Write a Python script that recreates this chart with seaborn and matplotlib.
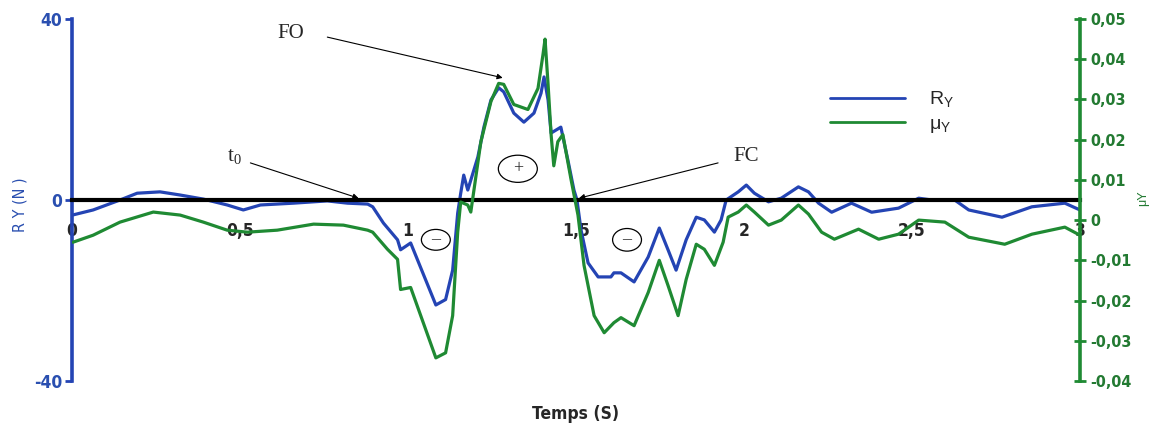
import matplotlib
matplotlib.use("Agg")
import matplotlib.pyplot as plt
from matplotlib.patches import Ellipse
from matplotlib.lines import Line2D
from matplotlib import font_manager
import seaborn as sns
import pandas as pd

# ---------------- data ----------------
t_R = [0.003, 0.063, 0.143, 0.194, 0.262, 0.322, 0.391, 0.462, 0.510, 0.561,
       0.659, 0.760, 0.820, 0.880, 0.895, 0.927, 0.969, 0.978, 1.008, 1.083,
       1.112, 1.133, 1.148, 1.157, 1.166, 1.178, 1.208, 1.226, 1.247, 1.270,
       1.285, 1.315, 1.345, 1.375, 1.396, 1.405, 1.417, 1.426, 1.455, 1.476,
       1.494, 1.503, 1.515, 1.536, 1.566, 1.604, 1.613, 1.634, 1.673, 1.715,
       1.748, 1.774, 1.798, 1.828, 1.858, 1.882, 1.912, 1.932, 1.947, 1.983,
       2.007, 2.031, 2.073, 2.111, 2.162, 2.192, 2.222, 2.261, 2.320, 2.380,
       2.460, 2.520, 2.559, 2.627, 2.669, 2.768, 2.857, 2.955, 3.000]
R_Y = [-3.3, -2.2, 0.0, 1.5, 1.8, 1.1, 0.2, -1.1, -2.2, -1.1,
       -0.7, -0.2, -0.7, -0.9, -1.5, -5.1, -8.8, -11.0, -9.5, -23.2,
       -22.0, -15.5, -2.9, 1.5, 5.5, 2.2, 9.5, 16.1, 22.1, 24.8,
       23.9, 19.2, 17.2, 19.2, 23.6, 27.2, 22.1, 14.8, 16.1, 8.8,
       2.2, 0.0, -6.6, -13.9, -17.0, -17.0, -16.1, -16.1, -18.1, -12.6,
       -6.2, -11.0, -15.5, -8.8, -3.8, -4.4, -7.1, -4.4, 0.0, 1.8,
       3.3, 1.5, -0.4, 0.4, 2.9, 1.8, -0.7, -2.7, -0.7, -2.7,
       -1.8, 0.4, 0.0, 0.0, -2.2, -3.8, -1.5, -0.7, -2.2]

t_mu = [0.003, 0.063, 0.143, 0.242, 0.322, 0.391, 0.462, 0.522, 0.611, 0.719,
        0.808, 0.880, 0.895, 0.939, 0.969, 0.978, 1.008, 1.083, 1.112, 1.133,
        1.148, 1.157, 1.178, 1.187, 1.217, 1.247, 1.270, 1.285, 1.315, 1.357,
        1.387, 1.402, 1.408, 1.417, 1.426, 1.434, 1.446, 1.461, 1.485, 1.506,
        1.524, 1.554, 1.584, 1.613, 1.634, 1.673, 1.715, 1.748, 1.774, 1.804,
        1.828, 1.858, 1.882, 1.912, 1.938, 1.953, 1.983, 2.007, 2.031, 2.073,
        2.111, 2.162, 2.192, 2.231, 2.269, 2.341, 2.401, 2.460, 2.520, 2.598,
        2.669, 2.776, 2.857, 2.955, 3.000]
mu_Y = [-0.0055, -0.00375, -0.0005, 0.002, 0.00125, -0.0005, -0.0025, -0.003, -0.0025, -0.001,
        -0.00125, -0.0025, -0.003, -0.00725, -0.00975, -0.01725, -0.01675, -0.03425, -0.033, -0.02375,
        -0.003, 0.0045, 0.00375, 0.002, 0.0195, 0.0295, 0.034, 0.03375, 0.02875, 0.0275,
        0.03275, 0.04125, 0.045, 0.03375, 0.02125, 0.0135, 0.0195, 0.02125, 0.01025, 0.00125,
        -0.01125, -0.02375, -0.028, -0.0255, -0.02425, -0.02625, -0.018, -0.01, -0.01625, -0.02375,
        -0.01475, -0.006, -0.00725, -0.01125, -0.0055, 0.00075, 0.002, 0.00375, 0.002, -0.00125,
        0.0, 0.00375, 0.0015, -0.003, -0.00475, -0.00225, -0.00475, -0.0035, 0.0, -0.0005,
        -0.00425, -0.006, -0.0035, -0.00175, -0.00375]

x_ticks = [0, 0.5, 1, 1.5, 2, 2.5, 3]
x_tick_labels = ["0", "0,5", "1", "1,5", "2", "2,5", "3"]
left_ticks = [40, 0, -40]
left_tick_labels = ["40", "0", "-40"]
right_ticks = [0.05, 0.04, 0.03, 0.02, 0.01, 0.0, -0.01, -0.02, -0.03, -0.04]
right_tick_labels = ["0,05", "0,04", "0,03", "0,02", "0,01", "0",
                     "-0,01", "-0,02", "-0,03", "-0,04"]

# ---------------- style ----------------
sns.set_style("white")
plt.rcParams["font.family"] = ["Liberation Sans", "DejaVu Sans"]

# condensed bold font for tick labels if available
NARROW_FP = font_manager.FontProperties(family="DejaVu Sans", weight="bold",
                                        stretch="condensed")

BLUE = "#2444b4"
GREEN = "#1f8a33"
LBLUE = "#2a4fb0"
LGREEN = "#237a32"

fig = plt.figure(figsize=(11.74, 4.29), dpi=100)
ax = fig.add_axes([0.0613, 0.1119, 0.8586, 0.8438])
ax2 = ax.twinx()

df_R = pd.DataFrame({"t": t_R, "R": R_Y})
df_mu = pd.DataFrame({"t": t_mu, "mu": mu_Y})

sns.lineplot(data=df_R, x="t", y="R", ax=ax, color=BLUE, lw=2.3, label=None)
sns.lineplot(data=df_mu, x="t", y="mu", ax=ax2, color=GREEN, lw=2.3, label=None)

ax.set_xlim(0, 3)
ax.set_ylim(-40, 40)
ax2.set_ylim(-0.04, 0.05)

for s in ["top", "right"]:
    ax.spines[s].set_visible(False)
for s in ["top", "bottom", "left"]:
    ax2.spines[s].set_visible(False)

ax.spines["left"].set_color(BLUE)
ax.spines["left"].set_linewidth(2.6)
ax.spines["bottom"].set_position(("data", 0))
ax.spines["bottom"].set_color("black")
ax.spines["bottom"].set_linewidth(3.0)
ax2.spines["right"].set_color(GREEN)
ax2.spines["right"].set_linewidth(2.6)


def fp(size):
    p = NARROW_FP.copy()
    p.set_size(size)
    return p


ax.set_xticks(x_ticks)
ax.set_xticklabels(x_tick_labels, fontproperties=fp(12.5))
ax.tick_params(axis="x", direction="out", length=4, width=1.5, color="black", pad=12)

ax.set_yticks(left_ticks)
ax.set_yticklabels(left_tick_labels, fontproperties=fp(12.5), color=LBLUE)
ax.tick_params(axis="y", direction="out", length=5, width=2, color=BLUE, pad=2)

ax2.set_yticks(right_ticks)
ax2.set_yticklabels(right_tick_labels, fontproperties=fp(11.5), color=LGREEN)
ax2.tick_params(axis="y", direction="inout", length=9, width=2, color=GREEN, pad=3)

ax.set_xlabel("")
ax.set_ylabel("")
ax2.set_ylabel("")

fig.text(576 / 1174, 1 - 414 / 429, "Temps (S)", ha="center", va="center",
         fontproperties=fp(12.5))
lab = fp(11.5)
lab.set_weight("normal")
fig.text(20 / 1174, 1 - 205 / 429, "R Y (N )", rotation=90, ha="center",
         va="center", color=LBLUE, fontproperties=lab)
fig.text(1143 / 1174, 1 - 198 / 429, "μY", rotation=90, ha="center",
         va="center", fontsize=9, color=LGREEN)

# legend
lh1 = Line2D([], [], color=BLUE, lw=2)
lh2 = Line2D([], [], color=GREEN, lw=2)
fig.legend([lh1, lh2], [r"R$_\mathregular{Y}$", r"μ$_\mathregular{Y}$"],
           loc="upper left", bbox_to_anchor=(812 / 1174, 1 - 72 / 429),
           frameon=False, fontsize=14, handlelength=3.9, labelspacing=0.3,
           handletextpad=1.2)

# annotations (in R/time coordinates, drawn on the top axes)
tr = ax.transData
serif = "Liberation Serif"
arrowprops = dict(arrowstyle="-|>", color="black", lw=0.8, mutation_scale=8,
                  shrinkA=0, shrinkB=0)
ax2.text(0.65, 36.7, "FO", ha="center", va="center", fontsize=15,
         family=serif, transform=tr)
ax2.annotate("", xy=(1.282, 27.0), xytext=(0.76, 36.0), xycoords=tr,
             textcoords=tr, arrowprops=arrowprops)
ax2.text(0.483, 9.4, r"t$_\mathregular{0}$", ha="center", va="center",
         fontsize=15, family=serif, transform=tr)
ax2.annotate("", xy=(0.853, 0.4), xytext=(0.531, 8.2), xycoords=tr,
             textcoords=tr, arrowprops=arrowprops)
ax2.text(2.007, 9.7, "FC", ha="center", va="center", fontsize=15,
         family=serif, transform=tr)
ax2.annotate("", xy=(1.509, 0.4), xytext=(1.923, 8.2), xycoords=tr,
             textcoords=tr, arrowprops=arrowprops)

for (cx, cy, w, h, sym) in [(1.083, -8.8, 0.086, 4.6, "–"),
                            (1.327, 6.9, 0.116, 6.0, "+"),
                            (1.652, -8.8, 0.086, 5.0, "–")]:
    e = Ellipse((cx, cy), w, h, facecolor="white", edgecolor="black",
                lw=0.9, zorder=5, transform=tr)
    ax2.add_artist(e)
    ax2.text(cx, cy, sym, ha="center", va="center", fontsize=13, zorder=6,
             family=serif, transform=tr)

fig.savefig("out.png", dpi=100)
